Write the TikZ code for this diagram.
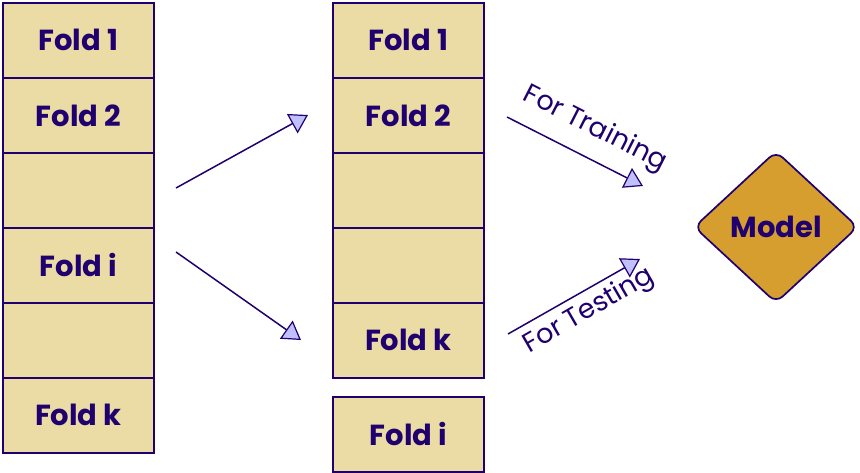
\documentclass[tikz,border=0pt]{standalone}
\usepackage{fontspec}
\setmainfont{Poppins}
\usetikzlibrary{arrows.meta,shapes.geometric}
\definecolor{ink}{RGB}{32,0,110}
\definecolor{cellfill}{RGB}{235,220,166}
\definecolor{modelfill}{RGB}{213,158,46}
\definecolor{tipfill}{RGB}{192,192,255}
\tikzset{
  cell/.style={draw=ink, fill=cellfill, line width=1.7pt, minimum width=151pt, minimum height=75pt, inner sep=0pt, text=ink, font=\fontsize{29}{33}\selectfont\bfseries, anchor=north west},
  flow/.style={draw=ink, line width=1.5pt, -{Triangle[length=18pt,width=22pt,fill=tipfill,line width=1.2pt]}},
  lbl/.style={text=ink, font=\fontsize{27}{31}\selectfont}
}
\begin{document}
\begin{tikzpicture}[x=1pt,y=-1pt]
\useasboundingbox (0,0) rectangle (860,472);
% left column
\node[cell] (l1) at (2,2) {Fold 1};
\node[cell] (l2) at (2,77) {Fold 2};
\node[cell] (l3) at (2,152) {};
\node[cell] (l4) at (2,227) {Fold i};
\node[cell] (l5) at (2,302) {};
\node[cell] (l6) at (2,377) {Fold k};
% middle column
\node[cell] (m1) at (332,2) {Fold 1};
\node[cell] (m2) at (332,77) {Fold 2};
\node[cell] (m3) at (332,152) {};
\node[cell] (m4) at (332,227) {};
\node[cell] (m5) at (332,302) {Fold k};
\node[cell] (mi) at (332,396) {Fold i};
% model
\node[diamond, draw=ink, fill=modelfill, line width=1.7pt, rounded corners=9pt, minimum width=164pt, minimum height=152pt, inner sep=0pt, text=ink, font=\fontsize{29}{33}\selectfont\bfseries] (model) at (776,227) {Model};
% arrows
\coordinate (a1s) at (176,188); \coordinate (a1e) at (308,115);
\coordinate (a2s) at (176,252); \coordinate (a2e) at (301,340);
\coordinate (a3s) at (507,117); \coordinate (a3e) at (643,186);
\coordinate (a4s) at (508,334); \coordinate (a4e) at (640,259);
\draw[flow] (a1s) -- (a1e);
\draw[flow] (a2s) -- (a2e);
\draw[flow] (a3s) -- (a3e);
\draw[flow] (a4s) -- (a4e);
\node[lbl, rotate=-27] (ltrain) at (595,129) {For Training};
\node[lbl, rotate=30] (ltest) at (589,311) {For Testing};
\end{tikzpicture}
\end{document}
